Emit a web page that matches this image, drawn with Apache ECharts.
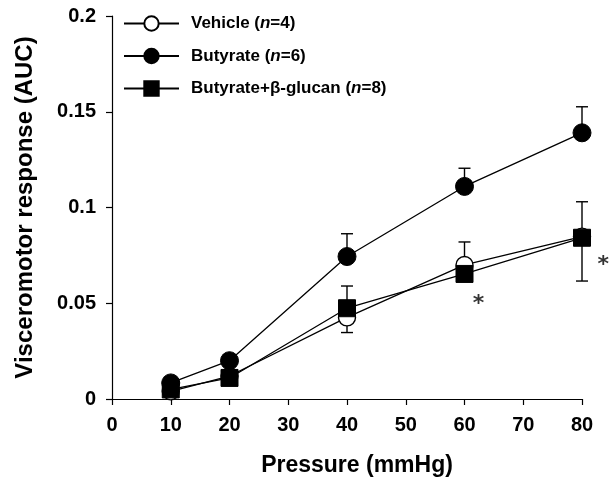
<!DOCTYPE html>
<html>
<head>
<meta charset="utf-8">
<script src="https://cdn.jsdelivr.net/npm/echarts@6/dist/echarts.min.js"></script>
<style>html,body{margin:0;padding:0;background:#fff}#c{width:610px;height:477px}</style>
</head>
<body>
<div id="c"></div>
<script>
var pressures = [10, 20, 40, 60, 80];
var vehicle = [0.004, 0.012, 0.0426, 0.070, 0.0848];
var butyrate = [0.0084, 0.020, 0.0744, 0.111, 0.139];
var glucan = [0.005, 0.011, 0.0474, 0.0653, 0.0842];
// error bar endpoints (null = no bar drawn in that direction)
var vehicleErrHigh = [null, null, null, 0.082, null];
var vehicleErrLow = [null, null, 0.0347, null, null];
var butyrateErrHigh = [null, null, 0.0863, 0.1205, 0.1526];
var butyrateErrLow = [null, null, null, null, null];
var glucanErrHigh = [null, null, 0.059, null, 0.103];
var glucanErrLow = [null, null, null, null, 0.0616];
var asterisks = [[62.4, 0.0495], [83.6, 0.070]];
var xTicks = [0, 10, 20, 30, 40, 50, 60, 70, 80];
var yTicks = [0, 0.05, 0.1, 0.15, 0.2];

var FONT = '"Liberation Sans", Arial, Helvetica, sans-serif';

function pairs(vals) { return pressures.map(function (p, i) { return [p, vals[i]]; }); }
function errData(vals, hi, lo) {
  var out = [];
  pressures.forEach(function (p, i) {
    if (hi[i] != null) out.push([p, vals[i], hi[i]]);
    if (lo[i] != null) out.push([p, vals[i], lo[i]]);
  });
  return out;
}
function errRender(params, api) {
  var a = api.coord([api.value(0), api.value(1)]);
  var b = api.coord([api.value(0), api.value(2)]);
  var hw = 6;
  return {
    type: 'group',
    children: [
      { type: 'line', shape: { x1: a[0], y1: a[1], x2: b[0], y2: b[1] }, style: { stroke: '#000', lineWidth: 1.4 } },
      { type: 'line', shape: { x1: b[0] - hw, y1: b[1], x2: b[0] + hw, y2: b[1] }, style: { stroke: '#000', lineWidth: 1.4 } }
    ]
  };
}

var rich = {
  b: { fontFamily: FONT, fontWeight: 'bold', fontSize: 17, color: '#000' },
  i: { fontFamily: FONT, fontWeight: 'bold', fontStyle: 'italic', fontSize: 17, color: '#000' }
};
var legendNames = {
  'Vehicle': '{b|Vehicle (}{i|n}{b|=4)}',
  'Butyrate': '{b|Butyrate (}{i|n}{b|=6)}',
  'Butyrate+β-glucan': '{b|Butyrate+β-glucan (}{i|n}{b|=8)}'
};

var chart = echarts.init(document.getElementById('c'));
chart.setOption({
  animation: false,
  backgroundColor: '#fff',
  grid: { left: 112, right: 28, top: 16, bottom: 78, outerBoundsMode: 'none' },
  legend: {
    orient: 'vertical',
    left: 123,
    top: 15,
    padding: 0,
    itemWidth: 55,
    itemHeight: 18,
    itemGap: 15.5,
    data: ['Vehicle', 'Butyrate', 'Butyrate+β-glucan'],
    formatter: function (n) { return legendNames[n]; },
    textStyle: { rich: rich, padding: [0, 0, 0, 7] }
  },
  xAxis: {
    type: 'value', min: 0, max: 80, interval: 10,
    name: 'Pressure (mmHg)', nameLocation: 'middle', nameGap: 55,
    nameTextStyle: { fontFamily: FONT, fontWeight: 'bold', fontSize: 23, color: '#000', padding: [0, 0, 0, 20] },
    axisLine: { lineStyle: { color: '#000', width: 1.2 } },
    axisTick: { show: true, length: 6, lineStyle: { color: '#000', width: 1.2 } },
    axisLabel: { margin: 16, fontFamily: FONT, fontWeight: 'bold', fontSize: 20, color: '#000',
      formatter: function (v) { return xTicks.indexOf(v) >= 0 ? String(v) : ''; } },
    splitLine: { show: false }
  },
  yAxis: {
    type: 'value', min: 0, max: 0.2, interval: 0.05,
    name: 'Visceromotor response (AUC)', nameLocation: 'middle', nameGap: 75,
    nameTextStyle: { fontFamily: FONT, fontWeight: 'bold', fontSize: 24, color: '#000' },
    axisLine: { show: true, lineStyle: { color: '#000', width: 1.2 } },
    axisTick: { show: true, length: 6, lineStyle: { color: '#000', width: 1.2 } },
    axisLabel: { margin: 16, fontFamily: FONT, fontWeight: 'bold', fontSize: 20, color: '#000',
      formatter: function (v) {
        for (var k = 0; k < yTicks.length; k++) if (Math.abs(yTicks[k] - v) < 1e-9) return String(yTicks[k]);
        return '';
      } },
    splitLine: { show: false }
  },
  series: [
    { type: 'custom', renderItem: errRender, data: errData(vehicle, vehicleErrHigh, vehicleErrLow), z: 1, silent: true },
    { type: 'custom', renderItem: errRender, data: errData(butyrate, butyrateErrHigh, butyrateErrLow), z: 1, silent: true },
    { type: 'custom', renderItem: errRender, data: errData(glucan, glucanErrHigh, glucanErrLow), z: 1, silent: true },
    {
      name: 'Vehicle', type: 'line', data: pairs(vehicle), z: 3,
      symbol: 'circle', symbolSize: 17, showAllSymbol: true,
      lineStyle: { color: '#000', width: 1.3 },
      itemStyle: { color: '#fff', borderColor: '#000', borderWidth: 1.4 }
    },
    {
      name: 'Butyrate', type: 'line', data: pairs(butyrate), z: 4,
      symbol: 'circle', symbolSize: 18, showAllSymbol: true,
      lineStyle: { color: '#000', width: 1.3 },
      itemStyle: { color: '#000', borderColor: '#000', borderWidth: 1 }
    },
    {
      name: 'Butyrate+β-glucan', type: 'line', data: pairs(glucan), z: 5,
      symbol: 'rect', symbolSize: 17, showAllSymbol: true,
      lineStyle: { color: '#000', width: 1.3 },
      itemStyle: { color: '#000', borderColor: '#000', borderWidth: 1 }
    },
    {
      type: 'scatter', data: asterisks, symbolSize: 0, clip: false, silent: true, z: 6,
      label: { show: true, position: 'inside', formatter: '*', fontFamily: '"DejaVu Sans", sans-serif', fontWeight: 'bold', fontSize: 22, color: '#000' }
    }
  ]
});
</script>
</body>
</html>
